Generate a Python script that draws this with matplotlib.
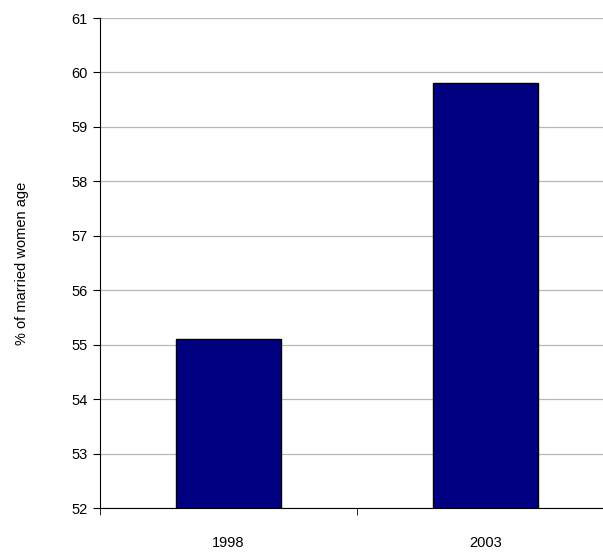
import matplotlib
matplotlib.use("Agg")
import matplotlib.pyplot as plt

years = ["1998", "2003"]
values = [55.1, 59.8]
yticks = list(range(52, 62))

plt.rcParams['font.family'] = ['Liberation Sans', 'DejaVu Sans']

fig = plt.figure(figsize=(6.03, 5.52), dpi=100)
# axes extends past the right edge, as in the reference
ax = fig.add_axes([100 / 603, (552 - 508) / 552, 514 / 603, 490 / 552])

x = [0.5, 1.5]
ax.bar(x, values, width=0.41, color="#000080", edgecolor="black", linewidth=1.0, zorder=3)
ax.set_xlim(0, 2)
ax.set_ylim(52, 61)
ax.set_yticks(yticks)
ax.set_xticks(x)
ax.set_xticklabels(years)
ax.set_xticks([0, 1, 2], minor=True)
ax.tick_params(axis="x", which="major", length=0, pad=20)
ax.tick_params(axis="x", which="minor", length=5, direction="out")
ax.tick_params(axis="y", length=5, direction="out", pad=4)
ax.tick_params(labelsize=10.5)
ax.grid(axis="y", color="#b8b8b8", linewidth=0.9, zorder=0)
for s in ["top", "right"]:
    ax.spines[s].set_visible(False)
ax.set_ylabel("% of married women age", fontsize=10.5, labelpad=30)

fig.savefig("out.png", dpi=100)
